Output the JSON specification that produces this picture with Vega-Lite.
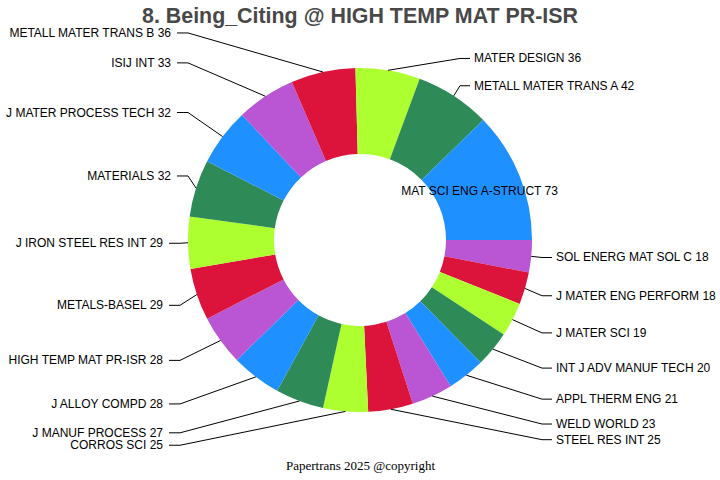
{
  "$schema": "https://vega.github.io/schema/vega-lite/v6.json",
  "width": 720,
  "height": 480,
  "autosize": {"type": "none"},
  "padding": 0,
  "background": "white",
  "title": {
    "text": "8. Being_Citing @ HIGH TEMP MAT PR-ISR",
    "font": "Liberation Sans",
    "fontSize": 21.4,
    "fontWeight": "bold",
    "color": "#484848",
    "anchor": "middle",
    "frame": "group",
    "offset": -27
  },
  "data": {
    "values": [
      {"name": "SOL ENERG MAT SOL C", "value": 18, "ord": 1},
      {"name": "J MATER ENG PERFORM", "value": 18, "ord": 2},
      {"name": "J MATER SCI", "value": 19, "ord": 3},
      {"name": "INT J ADV MANUF TECH", "value": 20, "ord": 4},
      {"name": "APPL THERM ENG", "value": 21, "ord": 5},
      {"name": "WELD WORLD", "value": 23, "ord": 6},
      {"name": "STEEL RES INT", "value": 25, "ord": 7},
      {"name": "CORROS SCI", "value": 25, "ord": 8},
      {"name": "J MANUF PROCESS", "value": 27, "ord": 9},
      {"name": "J ALLOY COMPD", "value": 28, "ord": 10},
      {"name": "HIGH TEMP MAT PR-ISR", "value": 28, "ord": 11},
      {"name": "METALS-BASEL", "value": 29, "ord": 12},
      {"name": "J IRON STEEL RES INT", "value": 29, "ord": 13},
      {"name": "MATERIALS", "value": 32, "ord": 14},
      {"name": "J MATER PROCESS TECH", "value": 32, "ord": 15},
      {"name": "ISIJ INT", "value": 33, "ord": 16},
      {"name": "METALL MATER TRANS B", "value": 36, "ord": 17},
      {"name": "MATER DESIGN", "value": 36, "ord": 18},
      {"name": "METALL MATER TRANS A", "value": 42, "ord": 19},
      {"name": "MAT SCI ENG A-STRUCT", "value": 73, "ord": 20}
    ]
  },
  "transform": [
    {"joinaggregate": [{"op": "sum", "field": "value", "as": "total"}]},
    {"window": [{"op": "sum", "field": "value", "as": "cum"}], "sort": [{"field": "ord"}], "frame": [null, 0]},
    {"calculate": "(datum.cum - datum.value) / datum.total * 2 * PI + PI / 2", "as": "a0"},
    {"calculate": "datum.cum / datum.total * 2 * PI + PI / 2", "as": "a1"},
    {"calculate": "(datum.a0 + datum.a1) / 2", "as": "mid"},
    {"calculate": "sin(datum.mid)", "as": "sx"},
    {"calculate": "cos(datum.mid)", "as": "cy"},
    {"calculate": "datum.value / datum.total > 0.1", "as": "inside"},
    {"calculate": "datum.sx > 0", "as": "right"},
    {"calculate": "datum.name + ' ' + datum.value", "as": "label"},
    {"calculate": "172 * datum.sx", "as": "ex"},
    {"calculate": "172 * datum.cy", "as": "ey"},
    {"calculate": "datum.right ? (datum.cy > 0.5 ? 100 : 182) : (datum.cy > 0 ? -172 : -180)", "as": "kx"},
    {"calculate": "datum.right ? (datum.cy > 0.5 ? 184 * datum.cy : 205 * datum.cy + 2) : (datum.cy > 0 ? 212 * datum.cy : 206 * datum.cy)", "as": "ky"},
    {"calculate": "datum.kx + (datum.right ? 10 : -11)", "as": "hx"},
    {"calculate": "datum.inside ? 129 * datum.sx : datum.hx + (datum.right ? 4 : -6)", "as": "tx"},
    {"calculate": "datum.inside ? 129 * datum.cy : datum.ky", "as": "ty"}
  ],
  "layer": [
    {
      "mark": {"type": "arc", "outerRadius": 172, "innerRadius": 86},
      "encoding": {
        "theta": {"field": "a0", "type": "quantitative", "scale": null, "stack": null},
        "theta2": {"field": "a1"},
        "color": {
          "field": "name",
          "type": "nominal",
          "legend": null,
          "scale": {
            "domain": [
              "SOL ENERG MAT SOL C", "J MATER ENG PERFORM", "J MATER SCI", "INT J ADV MANUF TECH", "APPL THERM ENG",
              "WELD WORLD", "STEEL RES INT", "CORROS SCI", "J MANUF PROCESS", "J ALLOY COMPD",
              "HIGH TEMP MAT PR-ISR", "METALS-BASEL", "J IRON STEEL RES INT", "MATERIALS", "J MATER PROCESS TECH",
              "ISIJ INT", "METALL MATER TRANS B", "MATER DESIGN", "METALL MATER TRANS A", "MAT SCI ENG A-STRUCT"
            ],
            "range": [
              "#BA55D3", "#DC143C", "#ADFF2F", "#2E8B57", "#1E90FF",
              "#BA55D3", "#DC143C", "#ADFF2F", "#2E8B57", "#1E90FF",
              "#BA55D3", "#DC143C", "#ADFF2F", "#2E8B57", "#1E90FF",
              "#BA55D3", "#DC143C", "#ADFF2F", "#2E8B57", "#1E90FF"
            ]
          }
        }
      }
    },
    {
      "transform": [{"filter": "!datum.inside"}],
      "mark": {"type": "rule", "color": "black", "strokeWidth": 1},
      "encoding": {
        "x": {
          "field": "ex",
          "type": "quantitative",
          "scale": {"domain": [-360, 360], "nice": false, "zero": false},
          "axis": {
            "orient": "bottom",
            "domain": false,
            "ticks": false,
            "labels": false,
            "grid": false,
            "title": "Papertrans 2025 @copyright",
            "titleFont": "Liberation Serif",
            "titleFontSize": 13,
            "titleFontWeight": "normal",
            "titleColor": "black",
            "titlePadding": 0,
            "offset": -21
          }
        },
        "y": {
          "field": "ey",
          "type": "quantitative",
          "scale": {"domain": [-240, 240], "nice": false, "zero": false},
          "axis": null
        },
        "x2": {"field": "kx"},
        "y2": {"field": "ky"}
      }
    },
    {
      "transform": [{"filter": "!datum.inside"}],
      "mark": {"type": "rule", "color": "black", "strokeWidth": 1},
      "encoding": {
        "x": {"field": "kx", "type": "quantitative"},
        "x2": {"field": "hx"},
        "y": {"field": "ky", "type": "quantitative"}
      }
    },
    {
      "transform": [{"filter": "!datum.inside && datum.right"}],
      "mark": {"type": "text", "align": "left", "baseline": "middle", "font": "Liberation Sans", "fontSize": 12, "color": "black"},
      "encoding": {
        "x": {"field": "tx", "type": "quantitative"},
        "y": {"field": "ty", "type": "quantitative"},
        "text": {"field": "label"}
      }
    },
    {
      "transform": [{"filter": "!datum.inside && !datum.right"}],
      "mark": {"type": "text", "align": "right", "baseline": "middle", "font": "Liberation Sans", "fontSize": 12, "color": "black"},
      "encoding": {
        "x": {"field": "tx", "type": "quantitative"},
        "y": {"field": "ty", "type": "quantitative"},
        "text": {"field": "label"}
      }
    },
    {
      "transform": [{"filter": "datum.inside"}],
      "mark": {"type": "text", "align": "center", "baseline": "middle", "font": "Liberation Sans", "fontSize": 12, "color": "black"},
      "encoding": {
        "x": {"field": "tx", "type": "quantitative"},
        "y": {"field": "ty", "type": "quantitative"},
        "text": {"field": "label"}
      }
    }
  ],
  "config": {"view": {"stroke": null}}
}
